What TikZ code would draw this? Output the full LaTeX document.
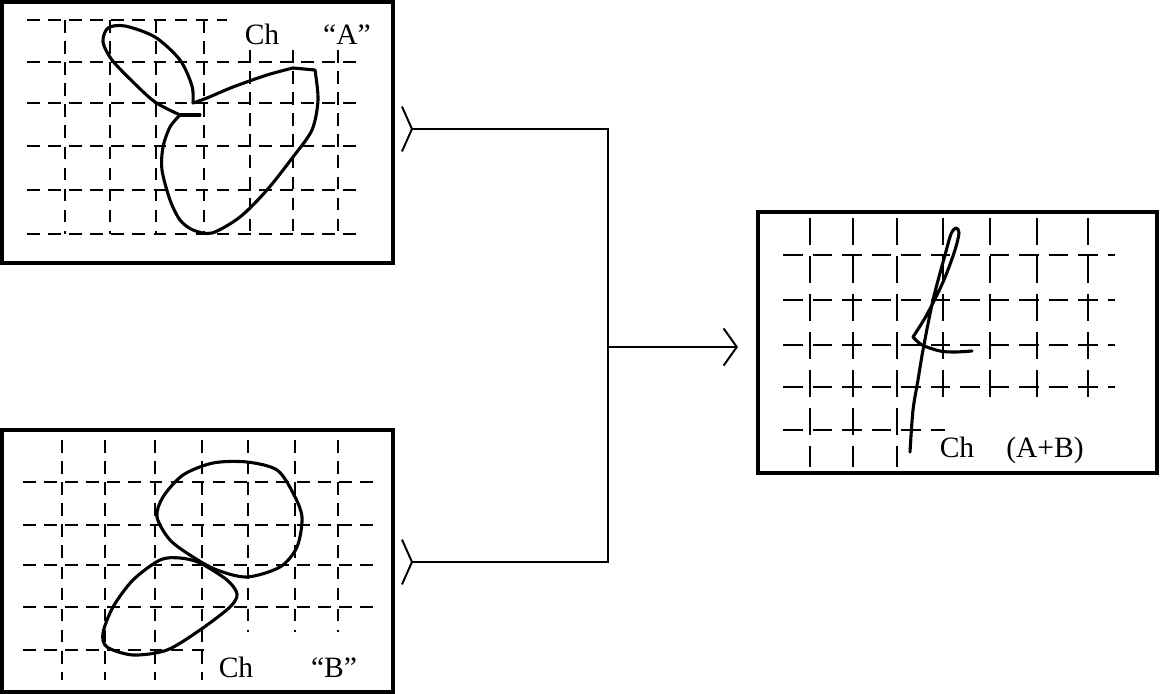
\documentclass[tikz,border=0pt]{standalone}
\usepackage{fontspec}
\setmainfont{Liberation Serif}
\usetikzlibrary{arrows.meta}

\tikzset{
  panel/.style={draw, line width=2.4pt, inner sep=0pt},
  gridln/.style={line width=1.2pt, dash pattern=on 9pt off 6pt},
  trace/.style={line width=2.2pt, line join=round, line cap=round},
  wire/.style={line width=1.4pt},
  lbl/.style={inner sep=0pt, anchor=base, font=\fontsize{21}{24}\selectfont}
}

\begin{document}
\begin{tikzpicture}[x=0.025cm,y=-0.025cm]
\useasboundingbox (0,0) rectangle (1160,694);

% panel A
\node[panel, minimum width=9.775cm, minimum height=6.525cm] (pa) at (197.5,132.5) {};
\draw[gridln] (27,20) -- (227,20);
\foreach \y in {62,103,146,190,234} \draw[gridln] (27,\y) -- (360,\y);
\foreach \x in {65,110,156,204} \draw[gridln] (\x,20) -- (\x,234);
\foreach \x in {250,293,338} \draw[gridln] (\x,50) -- (\x,234);
\node[lbl] (cha) at (262,45) {Ch};
\node[lbl] (taga) at (347,45) {“A”};
\draw[trace] plot[smooth] coordinates {(193,103) (192,86) (180,60) (155,37) (125,26) (108,28) (103,42) (112,60) (133,82) (155,102) (180,115)};
\draw[trace] plot[smooth] coordinates {(180,115) (170,127) (163,147) (162,170) (170,200) (180,220) (193,230) (212,233) (240,217) (267,190) (293,157) (312,130) (318,100) (315,70)}
  -- (293,68);
\draw[trace] plot[smooth] coordinates {(293,68) (267,75) (233,87) (207,98) (193,103)};
\draw[trace] (180,115) -- (200,115);

% panel B
\node[panel, minimum width=9.775cm, minimum height=6.55cm] (pb) at (197.5,561) {};
\foreach \y in {482,525,565,607} \draw[gridln] (23,\y) -- (373,\y);
\draw[gridln] (23,650) -- (208,650);
\foreach \x in {62,105,155,202} \draw[gridln] (\x,440) -- (\x,680);
\foreach \x in {248,295,338} \draw[gridln] (\x,440) -- (\x,632);
\node[lbl] (chb) at (236,677) {Ch};
\node[lbl] (tagb) at (334,677) {“B”};
\draw[trace] plot[smooth cycle] coordinates {(157,517) (163,497) (183,475) (213,463) (247,462) (277,470) (293,493) (302,517) (297,547) (280,567) (247,577) (217,570) (193,557) (170,540)};
\draw[trace] plot[smooth cycle] coordinates {(180,558) (200,563) (227,580) (237,594) (230,607) (200,630) (167,650) (133,655) (107,647) (103,633) (113,607) (133,580) (160,560)};

% panel C
\node[panel, minimum width=9.975cm, minimum height=6.525cm] (pc) at (957.5,342.5) {};
\foreach \y in {255,300,345,387} \draw[gridln, dash pattern=on 14pt off 7pt] (783,\y) -- (1115,\y);
\draw[gridln, dash pattern=on 14pt off 7pt] (783,430) -- (945,430);
\foreach \x in {810,853,897} \draw[gridln, dash pattern=on 19pt off 8pt] (\x,218) -- (\x,467);
\foreach \x in {943,990,1037,1088} \draw[gridln, dash pattern=on 19pt off 8pt] (\x,218) -- (\x,406);
\node[lbl] (chc) at (957,458) {Ch};
\node[lbl] (tagc) at (1045,458) {(A+B)};
\draw[trace] plot[smooth] coordinates {(910,452) (913,410) (918,380) (923,350) (933,300) (945,255) (951,234) (956,228) (959,233) (955,250) (946,275) (937,295) (925,318) (913,337)};
\draw[trace] plot[smooth] coordinates {(913,337) (922,345) (940,351) (955,352) (972,351)};

% connectors
\coordinate (ina) at (401,129);
\coordinate (inb) at (401,562);
\coordinate (mid) at (608,347);
\coordinate (outc) at (738,347);
\draw[wire, {Straight Barb[reversed, length=0.25cm, width=1.12cm]}-{Straight Barb[reversed, length=0.25cm, width=1.12cm]}] (ina) -| (mid) |- (inb);
\draw[wire, -{Straight Barb[length=0.33cm, width=0.93cm]}] (mid) -- (outc);
\end{tikzpicture}
\end{document}
